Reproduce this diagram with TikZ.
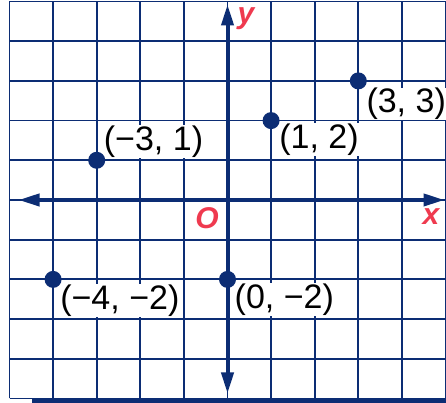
\documentclass[tikz,border=0pt]{standalone}
\usepackage{fontspec}
\setmainfont{Liberation Sans}
\usetikzlibrary{arrows.meta}
\definecolor{navy}{HTML}{0C2D74}
\definecolor{axred}{HTML}{EF3A4F}
\tikzset{
  gridline/.style={draw=navy, line width=1.8pt},
  axisline/.style={draw=navy, line width=4pt, {Triangle[length=21pt,width=12pt]}-{Triangle[length=21pt,width=12pt]}},
  dotpt/.style={circle, fill=navy, inner sep=0pt, minimum size=17pt},
  lbl/.style={anchor=west, inner sep=0.5pt, fill=white, font=\fontsize{34}{36}\selectfont, text=black},
  axlbl/.style={inner sep=0pt, text=axred, font=\fontsize{30}{32}\selectfont\bfseries\itshape}
}
\begin{document}
\begin{tikzpicture}[x=1pt,y=1pt]
\useasboundingbox (0,0) rectangle (446,403);
\fill[white] (0,0) rectangle (446,403);
\draw[navy, line width=5pt] (32,2.5) -- (446,2.5);
\begin{scope}[shift={(227.5pt,203pt)}, x=43.6pt, y=39.7pt]
  \draw[gridline] (-5,-5) grid[step=1] (5,5);
  \coordinate (xl) at (-5,0);
  \coordinate (xr) at (5,0);
  \coordinate (yt) at (0,5);
  \coordinate (yb) at (0,-5);
  \draw[axisline] ([xshift=9pt]xl) -- ([xshift=-1pt]xr);
  \draw[axisline] ([yshift=-3pt]yt) -- ([yshift=5pt]yb);
  \coordinate (c1) at (-3,1);
  \coordinate (c2) at (1,2);
  \coordinate (c3) at (3,3);
  \coordinate (c4) at (-4,-2);
  \coordinate (c5) at (0,-2);
  \node[lbl] (l1) at ([shift={(6.5pt,19pt)}]c1) {(−3, 1)};
  \node[lbl] (l2) at ([shift={(7.5pt,-19pt)}]c2) {(1, 2)};
  \node[lbl] (l3) at ([shift={(7.5pt,-23pt)}]c3) {(3, 3)};
  \node[lbl] (l4) at ([shift={(6.5pt,-21pt)}]c4) {(−4, −2)};
  \node[lbl] (l5) at ([shift={(6.5pt,-20pt)}]c5) {(0, −2)};
  \node[dotpt] (p1) at (c1) {};
  \node[dotpt] (p2) at (c2) {};
  \node[dotpt] (p3) at (c3) {};
  \node[dotpt] (p4) at (c4) {};
  \node[dotpt] (p5) at (c5) {};
\end{scope}
\node[axlbl] (ylab) at (246,384) {y};
\node[axlbl] (xlab) at (431,186) {x};
\node[axlbl] (olab) at (207,185) {O};
\end{tikzpicture}
\end{document}
